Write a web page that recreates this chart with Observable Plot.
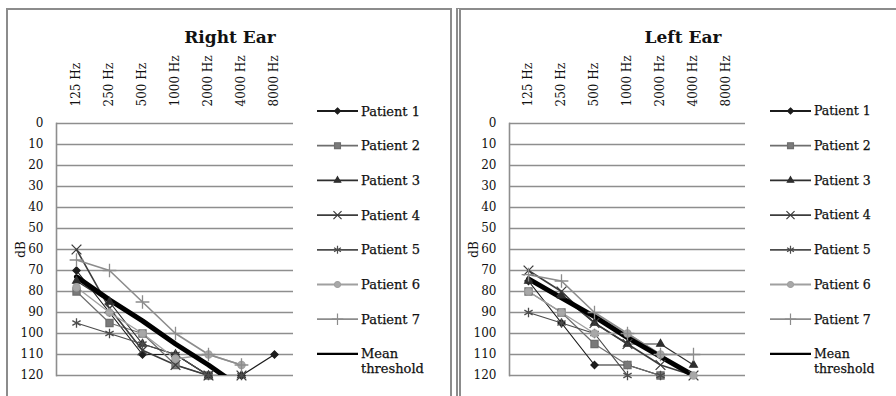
<!DOCTYPE html>
<html><head><meta charset="utf-8">
<script src="https://cdn.jsdelivr.net/npm/d3@7"></script>
<script src="https://cdn.jsdelivr.net/npm/@observablehq/plot@0.6"></script>
<style>
body{margin:0;background:#fff;width:896px;height:396px;overflow:hidden;position:relative;font-family:"DejaVu Serif",serif;}
.panel{position:absolute;top:8px;height:400px;border:2px solid #8c8c8c;box-sizing:border-box;}
.plot{position:absolute;top:10px;}
.title{position:absolute;top:27px;width:200px;text-align:center;font-weight:bold;font-size:17px;color:#111;}
.legend{position:absolute;top:0;}
</style>
</head><body>
<script>
// ---- data ----
const freqs = ["125 Hz","250 Hz","500 Hz","1000 Hz","2000 Hz","4000 Hz","8000 Hz"];
const yTicks = [0,10,20,30,40,50,60,70,80,90,100,110,120];
const seriesNames = ["Patient 1","Patient 2","Patient 3","Patient 4","Patient 5","Patient 6","Patient 7","Mean threshold"];

// Right ear (dB per frequency)
const rightP1 = [70, 90, 110, 110, 120, 120, 110];
const rightP2 = [80, 95, 100, 115, 120, null, null];
const rightP3 = [75, 85, 105, 110, 120, 120, null];
const rightP4 = [60, 88, 108, 115, 120, 120, null];
const rightP5 = [95, 100, 105, 110, 120, 120, null];
const rightP6 = [78, 90, 100, 112, 110, 115, null];
const rightP7 = [65, 70, 85, 100, 110, 115, null];
const rightMean = [73, 84, 94, 105, 115, 126, null];

// Left ear (dB per frequency)
const leftP1 = [75, 95, 115, 115, 120, null, null];
const leftP2 = [80, 90, 105, 115, 120, null, null];
const leftP3 = [75, 82, 95, 105, 105, 115, null];
const leftP4 = [70, 80, 95, 105, 115, 120, null];
const leftP5 = [90, 95, 100, 120, 120, null, null];
const leftP6 = [80, 90, 100, 100, 110, 120, null];
const leftP7 = [72, 75, 90, 100, 110, 110, null];
const leftMean = [74, 83, 92, 102, 111, 120, null];

// styles per series
const styles = [
  {stroke:"#1c1c1c", width:1.2, symbol:"diamond2", fill:"#1c1c1c", r:3.2},
  {stroke:"#6e6e6e", width:1.2, symbol:"square2", fill:"#7a7a7a", r:4.5},
  {stroke:"#2e2e2e", width:1.2, symbol:"triangle2", fill:"#2e2e2e", r:3.6},
  {stroke:"#3c3c3c", width:1.6, symbol:"times", fill:"none", r:4.5},
  {stroke:"#4c4c4c", width:1.2, symbol:"asterisk", fill:"none", r:4.5},
  {stroke:"#a0a0a0", width:1.4, symbol:"circle", fill:"#a8a8a8", r:3.6},
  {stroke:"#8c8c8c", width:1.6, symbol:"plus", fill:"none", r:4.5},
  {stroke:"#000000", width:5, symbol:null}
];

function makeChart(series, left, marginLeft, width) {
  const marks = [
    Plot.gridY(yTicks, {stroke:"#8e8e8e", strokeOpacity:1, strokeWidth:1.6}),
    Plot.frame({anchor:"left", stroke:"#8e8e8e", strokeWidth:1.6}),
    Plot.axisY(yTicks, {tickSize:0, tickPadding:13, fontSize:12, fill:"#111", stroke:"#111", strokeWidth:0.3,
      label:"dB", labelAnchor:"center", labelOffset:40, labelArrow:"none"}),
    Plot.axisX({anchor:"top", tickRotate:-90, tickSize:0, tickPadding:17, fontSize:12, fill:"#111", stroke:"#111", strokeWidth:0.2, label:null})
  ];
  series.forEach((vals, i) => {
    const st = styles[i];
    const rows = freqs.map((f, j) => ({f, v: vals[j]})).filter(d => d.v != null);
    marks.push(Plot.line(rows, {x:"f", y:"v", stroke:st.stroke, strokeWidth:st.width, clip:true}));
  });
  series.forEach((vals, i) => {
    const st = styles[i];
    if (!st.symbol) return;
    const rows = freqs.map((f, j) => ({f, v: vals[j]})).filter(d => d.v != null && d.v <= 120);
    marks.push(Plot.dot(rows, {x:"f", y:"v", symbol:st.symbol, r:st.r, stroke:st.stroke, fill:st.fill, strokeWidth:1.3}));
  });
  const chart = Plot.plot({
    width, height:390,
    marginLeft, marginRight:2, marginTop:113, marginBottom:25,
    style:{fontFamily:"DejaVu Serif", fontSize:"10px", background:"transparent", color:"#222"},
    x:{type:"point", domain:freqs, padding:0.5},
    y:{domain:[0,120], reverse:true},
    marks
  });
  chart.classList.add("plot");
  chart.style.left = left + "px";
  document.body.appendChild(chart);
}

const symMap = {diamond2:d3.symbolDiamond2, square2:d3.symbolSquare2, triangle2:d3.symbolTriangle2,
  times:d3.symbolTimes, asterisk:d3.symbolAsterisk, circle:d3.symbolCircle, plus:d3.symbolPlus};

function makeLegend(left, top, lineW, fontSize) {
  const rowH = 34.7;
  const svg = d3.select("body").append("svg").attr("class","legend")
    .style("left", left + "px").style("top", top + "px")
    .attr("width", 130).attr("height", 300);
  seriesNames.forEach((name, i) => {
    const st = styles[i];
    const g = svg.append("g").attr("transform", `translate(0,${12 + i*rowH})`);
    g.append("line").attr("x1",0).attr("x2",lineW).attr("y1",0).attr("y2",0)
      .attr("stroke", st.stroke).attr("stroke-width", st.symbol ? Math.max(st.width,1.8) : 2.4);
    if (st.symbol) {
      const filled = st.fill !== "none";
      g.append("path").attr("transform",`translate(${lineW/2},0)`)
        .attr("d", d3.symbol(symMap[st.symbol], Math.PI*st.r*st.r*0.7)())
        .attr("fill", filled ? st.fill : "none").attr("stroke", st.stroke).attr("stroke-width",1.2);
    }
    const parts = name === "Mean threshold" ? ["Mean","threshold"] : [name];
    parts.forEach((p, k) => {
      g.append("text").attr("x", lineW + 3).attr("y", k*15).attr("dy","0.35em")
        .attr("font-family","DejaVu Serif").attr("font-size", fontSize).attr("fill","#111")
        .attr("stroke","#111").attr("stroke-width",0.25).text(p);
    });
  });
}

function panel(left, width, titleText, titleCenter, dbl) {
  const p = document.createElement("div");
  p.className = "panel"; p.style.left = left + "px"; p.style.width = width + "px";
  if (dbl) { p.style.borderLeft = "5px double #8c8c8c"; }
  document.body.appendChild(p);
  const t = document.createElement("div");
  t.className = "title"; t.textContent = titleText; t.style.left = (titleCenter - 100) + "px";
  document.body.appendChild(t);
}

panel(6, 446, "Right Ear", 230, false);
panel(456, 442, "Left Ear", 683, true);
makeChart([rightP1,rightP2,rightP3,rightP4,rightP5,rightP6,rightP7,rightMean], 8, 48, 287);
makeChart([leftP1,leftP2,leftP3,leftP4,leftP5,leftP6,leftP7,leftMean], 461, 48, 286);
makeLegend(317, 99, 41, 13);
makeLegend(770, 99, 41, 12.5);
</script>
</body></html>
